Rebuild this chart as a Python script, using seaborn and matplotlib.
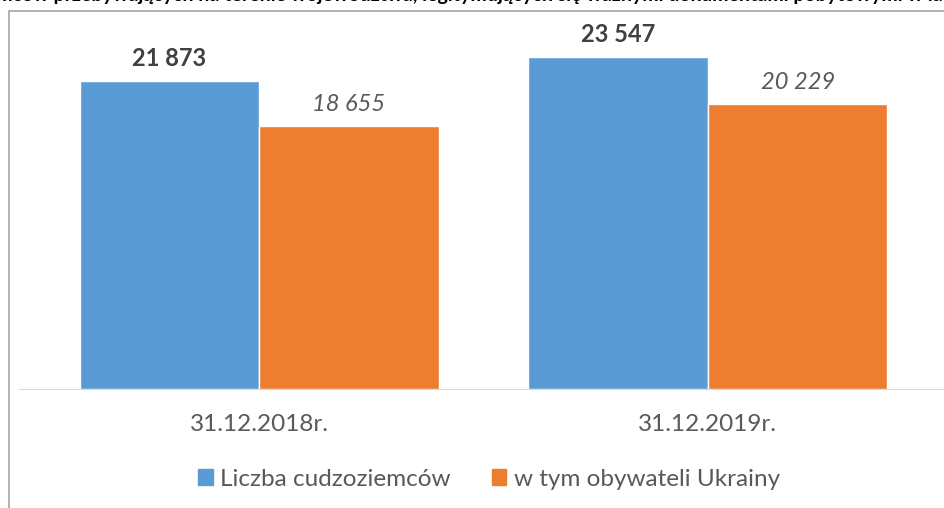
import pandas as pd
import seaborn as sns
import matplotlib.pyplot as plt
from matplotlib.patches import Rectangle

dates = ["31.12.2018r.", "31.12.2019r."]
series = ["Liczba cudzoziemców", "w tym obywateli Ukrainy"]
cudzoziemcy = [21873, 23547]
ukraina = [18655, 20229]
title = ("Liczba cudzoziemców przebywających na terenie województwa, legitymujących się "
         "ważnymi dokumentami pobytowymi w latach 2018-2019")

df = pd.DataFrame({
    "data": dates * 2,
    "grupa": [series[0]] * 2 + [series[1]] * 2,
    "liczba": cudzoziemcy + ukraina,
})

sns.set_style("white")
plt.rcParams["font.family"] = ["Lato", "DejaVu Sans"]

fig = plt.figure(figsize=(9.44, 5.08), dpi=100)
ax = fig.add_axes([19 / 944, 1 - 389 / 508, 925 / 944, 369 / 508])

sns.barplot(data=df, x="data", y="liczba", hue="grupa", palette=["#5b9bd5", "#ed7d31"],
            width=0.8, saturation=1, ax=ax, legend=False)

ax.set_xlim(-0.535, 1.526)
ax.set_ylim(0, 26200)
ax.set_xlabel("")
ax.set_ylabel("")
ax.set_yticks([])
for s in ["top", "left", "right"]:
    ax.spines[s].set_visible(False)
ax.spines["bottom"].set_color("#d9d9d9")
ax.tick_params(axis="x", length=0, pad=18, labelsize=17.5, labelcolor="#595959")

fmt = lambda v: f"{v:,}".replace(",", " ")
ax.bar_label(ax.containers[0], labels=[fmt(v) for v in cudzoziemcy], padding=8,
             fontsize=17, fontweight="bold", color="#404040")
ax.bar_label(ax.containers[1], labels=[fmt(v) for v in ukraina], padding=8,
             fontsize=17, fontstyle="italic", color="#595959")

handles = [Rectangle((0, 0), 1, 1, color=c) for c in ["#5b9bd5", "#ed7d31"]]
fig.legend(handles, series, loc="center", bbox_to_anchor=(489 / 944, 1 - 479 / 508),
           ncol=2, frameon=False, fontsize=17.5, labelcolor="#595959",
           handlelength=0.6, handleheight=0.6, handletextpad=0.3, columnspacing=1.7)

# chart frame and the clipped title above it
fig.add_artist(Rectangle((9 / 944, -0.1), 2, 1.1 - 11 / 508, transform=fig.transFigure,
                         fill=False, edgecolor="#a6a6a6", lw=1.2))
fig.text(0.5, 1 - 1.5 / 508, title, ha="center", va="baseline", fontsize=14,
         fontweight="bold", color="black")

fig.savefig("out.png", dpi=100)
